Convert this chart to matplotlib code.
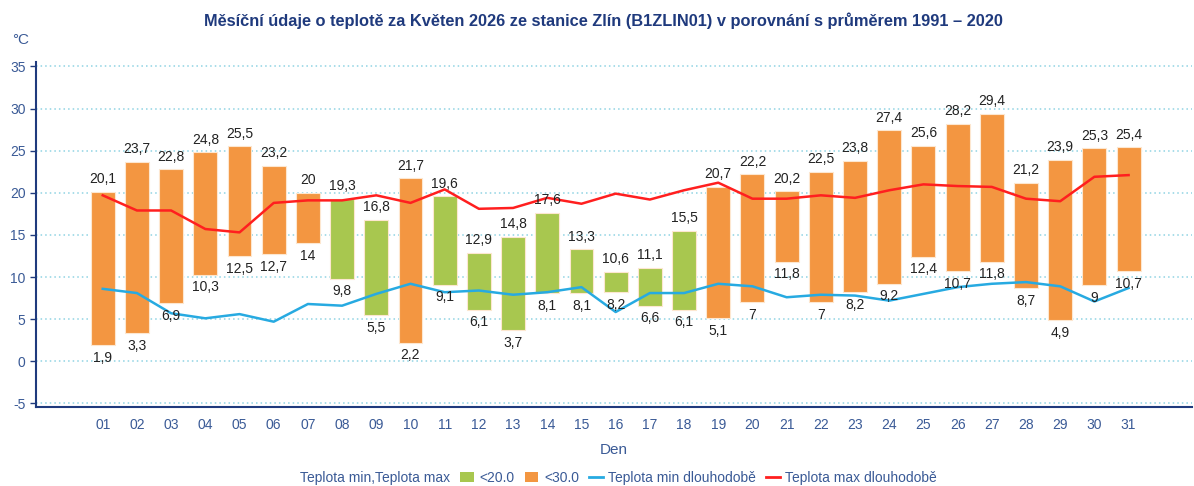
import numpy as np
import matplotlib
matplotlib.use("Agg")
import matplotlib.pyplot as plt
from matplotlib.patches import Patch
from matplotlib.lines import Line2D

plt.rcParams['font.family'] = ['Liberation Sans', 'DejaVu Sans']
plt.rcParams['axes.unicode_minus'] = False

# -------------------------------------------------------
# DATA
# -------------------------------------------------------
days = ['01', '02', '03', '04', '05', '06', '07', '08', '09', '10',
        '11', '12', '13', '14', '15', '16', '17', '18', '19', '20',
        '21', '22', '23', '24', '25', '26', '27', '28', '29', '30', '31']

t_min = [1.9, 3.3, 6.9, 10.3, 12.5, 12.7, 14.0, 9.8, 5.5, 2.2,
         9.1, 6.1, 3.7, 8.1, 8.1, 8.2, 6.6, 6.1, 5.1, 7.0,
         11.8, 7.0, 8.2, 9.2, 12.4, 10.7, 11.8, 8.7, 4.9, 9.0, 10.7]

t_max = [20.1, 23.7, 22.8, 24.8, 25.5, 23.2, 20.0, 19.3, 16.8, 21.7,
         19.6, 12.9, 14.8, 17.6, 13.3, 10.6, 11.1, 15.5, 20.7, 22.2,
         20.2, 22.5, 23.8, 27.4, 25.6, 28.2, 29.4, 21.2, 23.9, 25.3, 25.4]

# long-term averages 1991-2020
lt_min = [8.6, 8.1, 5.7, 5.1, 5.6, 4.7, 6.8, 6.6, 8.0, 9.2,
          8.2, 8.4, 7.9, 8.2, 8.8, 5.85, 8.1, 8.1, 9.2, 8.9,
          7.6, 7.9, 7.8, 7.2, 8.0, 8.8, 9.2, 9.4, 8.9, 7.1, 8.7]

lt_max = [19.7, 17.9, 17.9, 15.7, 15.3, 18.8, 19.1, 19.1, 19.7, 18.8,
          20.4, 18.1, 18.2, 19.4, 18.7, 19.9, 19.2, 20.3, 21.2, 19.3,
          19.3, 19.7, 19.4, 20.3, 21.0, 20.8, 20.7, 19.3, 19.0, 21.9, 22.1]

GREEN = '#a8c74f'
ORANGE = '#f39641'
BLUE = '#27aae1'
RED = '#ff1f1f'
NAVY = '#1f3a7d'
TICK = '#3a5a96'


def fmt(v):
    s = f'{v:.1f}'
    if s.endswith('.0'):
        s = s[:-2]
    return s.replace('.', ',')


x = np.arange(1, len(days) + 1)
t_min = np.array(t_min)
t_max = np.array(t_max)
colors = [GREEN if m < 20.0 else ORANGE for m in t_max]

fig = plt.figure(figsize=(11.94, 4.86), dpi=100)
ax = fig.add_axes([0.0302, 0.163, 0.968, 0.709])

ax.bar(x, t_max - t_min, bottom=t_min, width=0.7, color=colors,
       edgecolor='#fde7d0', linewidth=0.8, zorder=2)
ax.plot(x, lt_min, color=BLUE, linewidth=1.8, zorder=3)
ax.plot(x, lt_max, color=RED, linewidth=1.8, zorder=3)

for xi, lo, hi in zip(x, t_min, t_max):
    ax.annotate(fmt(hi), (xi, hi), xytext=(0, 4), textcoords='offset points',
                ha='center', va='bottom', fontsize=10, color='#222222', zorder=4)
    ax.annotate(fmt(lo), (xi, lo), xytext=(0, -4), textcoords='offset points',
                ha='center', va='top', fontsize=10, color='#222222', zorder=4)

ax.set_xlim(-0.95, 32.85)
ax.set_ylim(-5.4, 35.5)
ax.set_yticks(range(-5, 36, 5))
ax.set_xticks(x)
ax.set_xticklabels(days)
ax.yaxis.grid(True, linestyle=(0, (1, 2)), color='#8fd3e3', linewidth=1.1, zorder=0)
ax.set_axisbelow(True)

for side in ['top', 'right']:
    ax.spines[side].set_visible(False)
for side in ['left', 'bottom']:
    ax.spines[side].set_color(NAVY)
    ax.spines[side].set_linewidth(1.5)

ax.tick_params(axis='y', colors=NAVY, labelcolor=TICK, labelsize=10, length=4, width=1)
ax.tick_params(axis='x', length=0, labelcolor=TICK, labelsize=10, pad=8)
ax.set_xlabel('Den', fontsize=11, color=TICK, labelpad=8)

fig.text(0.010, 0.918, '°C', fontsize=11, color=TICK, ha='left', va='center')
fig.suptitle('Měsíční údaje o teplotě za Květen 2026 ze stanice Zlín (B1ZLIN01) v porovnání s průměrem 1991 – 2020',
             x=0.505, y=0.975, fontsize=11.8, fontweight='bold', color=NAVY)

handles = [Patch(facecolor='none', edgecolor='none'),
           Patch(facecolor=GREEN, edgecolor='none'),
           Patch(facecolor=ORANGE, edgecolor='none'),
           Line2D([], [], color=BLUE, linewidth=2),
           Line2D([], [], color=RED, linewidth=2)]
labels = ['Teplota min,Teplota max', '<20.0', '<30.0',
          'Teplota min dlouhodobě', 'Teplota max dlouhodobě']
leg = fig.legend(handles, labels, loc='center', bbox_to_anchor=(0.51, 0.017),
                 ncol=5, frameon=False, fontsize=10, handlelength=1.0,
                 handleheight=0.8, handletextpad=0.4, columnspacing=0.7)
for t in leg.get_texts():
    t.set_color(TICK)

plt.savefig('out.png', dpi=100)
